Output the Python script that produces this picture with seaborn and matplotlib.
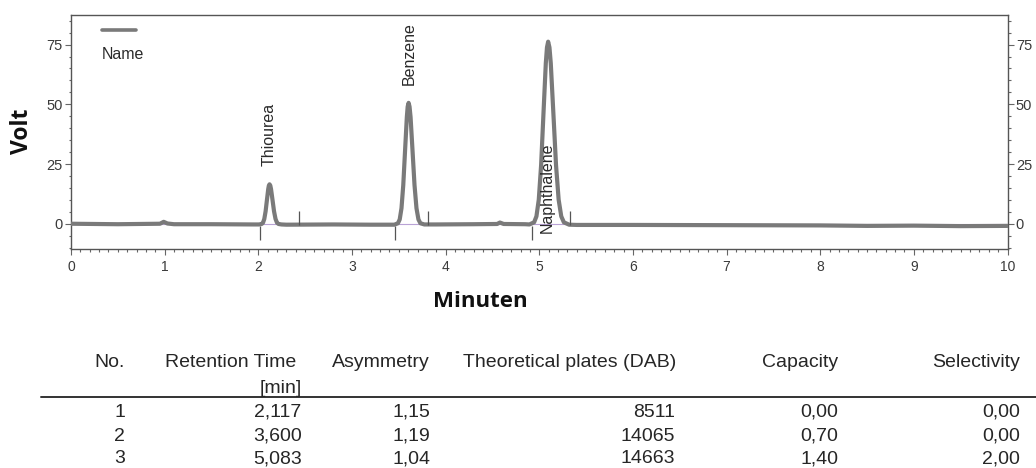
import matplotlib
matplotlib.use("Agg")
import matplotlib.pyplot as plt
import pandas as pd
import seaborn as sns
from matplotlib.ticker import MultipleLocator, FixedLocator
from matplotlib.offsetbox import DrawingArea, TextArea, VPacker, AnchoredOffsetbox
from matplotlib.lines import Line2D

# ---- chromatogram trace (minutes, volt) ----
time_min = [0.00, 0.50, 0.95, 0.99, 1.03, 1.10, 1.50, 1.95,
            2.008, 2.036, 2.050, 2.064, 2.078, 2.092, 2.106, 2.113, 2.120, 2.128, 2.136, 2.152, 2.168, 2.184, 2.200, 2.216, 2.248,
            2.30, 2.80, 3.20,
            3.453, 3.491, 3.510, 3.529, 3.548, 3.567, 3.586, 3.595, 3.605, 3.615, 3.626, 3.647, 3.668, 3.689, 3.710, 3.731, 3.773,
            3.90, 4.30, 4.55, 4.58, 4.62, 4.85,
            4.895, 4.945, 4.970, 4.995, 5.020, 5.045, 5.070, 5.0825, 5.095, 5.109, 5.123, 5.151, 5.179, 5.207, 5.235, 5.263, 5.319,
            5.40, 6.00, 7.00, 8.00, 8.50, 9.00, 9.50, 10.00]
signal_volt = [0.0, -0.2, 0.0, 0.8, 0.1, -0.2, -0.2, -0.3,
               -0.3, -0.1, 0.4, 2.0, 5.2, 9.9, 14.5, 16.0, 16.5, 16.0, 14.5, 9.9, 5.2, 2.0, 0.4, -0.1, -0.3,
               -0.4, -0.3, -0.4,
               -0.4, 0.2, 1.8, 6.5, 16.2, 30.5, 44.6, 49.0, 50.6, 49.0, 44.6, 30.5, 16.2, 6.5, 1.8, 0.2, -0.3,
               -0.3, -0.2, -0.1, 0.5, -0.1, -0.2,
               -0.3, 0.6, 3.1, 10.1, 24.6, 46.1, 67.2, 73.8, 76.2, 73.8, 67.2, 46.1, 24.6, 10.1, 3.1, 0.6, -0.4,
               -0.5, -0.5, -0.6, -0.7, -0.9, -0.8, -1.0, -0.9]

# peak labels and integration marks
peak_names = ["Thiourea", "Benzene", "Naphthalene"]
label_time = [2.12, 3.61, 5.09]
label_volt = [24.0, 58.0, -3.7]
peak_start = [2.015, 3.465, 4.918]
peak_end = [2.430, 3.812, 5.325]
start_mark_volt = [-0.8, -7.0]
end_mark_volt = [-0.5, 5.4]

# ---- result table ----
col_no = ["1", "2", "3"]
col_retention = ["2,117", "3,600", "5,083"]
col_asymmetry = ["1,15", "1,19", "1,04"]
col_plates = ["8511", "14065", "14663"]
col_capacity = ["0,00", "0,70", "1,40"]
col_selectivity = ["0,00", "0,00", "2,00"]
table_headers = ["No.", "Retention Time", "Asymmetry", "Theoretical plates (DAB)", "Capacity", "Selectivity"]

sns.set_theme(style="white")
plt.rcParams["font.family"] = ["Liberation Sans", "DejaVu Sans"]

W, H = 1036, 468
fig = plt.figure(figsize=(W / 100, H / 100), dpi=100)
ax_l, ax_r, ax_t, ax_b = 71, 1007.5, 14.7, 249.3
ax = fig.add_axes([ax_l / W, 1 - ax_b / H, (ax_r - ax_l) / W, (ax_b - ax_t) / H])

trace_color = "#7a7a7a"
df = pd.DataFrame({"Minuten": time_min, "Volt": signal_volt})
ax.axhline(0, color="#b9a3d6", lw=0.8, zorder=1)
sns.lineplot(data=df, x="Minuten", y="Volt", ax=ax, estimator=None, sort=False,
             color=trace_color, lw=3.0, zorder=3, solid_joinstyle="round", solid_capstyle="round")
ax.vlines(peak_start, start_mark_volt[0], start_mark_volt[1], color="#555555", lw=0.9, zorder=4)
ax.vlines(peak_end, end_mark_volt[0], end_mark_volt[1], color="#555555", lw=0.9, zorder=4)

for name, tx, ty in zip(peak_names, label_time, label_volt):
    ax.text(tx, ty, name, rotation=90, ha="center", va="bottom", fontsize=11.5, color="#2a2a2a", zorder=5)

ax.set_xlim(0, 10)
ax.set_ylim(-10.7, 87.5)
ax.xaxis.set_major_locator(MultipleLocator(1))
ax.xaxis.set_minor_locator(MultipleLocator(0.1))
ax.yaxis.set_major_locator(FixedLocator([0, 25, 50, 75]))
ax.yaxis.set_minor_locator(MultipleLocator(5))
ax.tick_params(axis="both", which="both", direction="out", color="#666666", width=0.8)
ax.tick_params(axis="both", which="major", length=4)
ax.tick_params(axis="both", which="minor", length=1.8)
ax.tick_params(axis="y", which="both", left=True, right=True, labelleft=True, labelright=True,
               labelsize=10.5, labelcolor="#3a3a3a", pad=2)
ax.tick_params(axis="x", which="both", bottom=True, top=False, labelsize=10, labelcolor="#3a3a3a", pad=4)
for s in ax.spines.values():
    s.set_visible(True)
    s.set_color("#555555")
    s.set_linewidth(1.0)

ax.set_xlabel("Minuten", fontsize=16, fontweight="bold", family=["Open Sans", "DejaVu Sans"], color="#111111")
ax.set_ylabel("Volt", fontsize=16.5, fontweight="bold", family=["Open Sans", "DejaVu Sans"], color="#111111")
ax.xaxis.label.set_va("center")
ax.yaxis.label.set_va("center")
ax.xaxis.set_label_coords(0.437, (ax_b - 301.7) / (ax_b - ax_t))
ax.yaxis.set_label_coords((22 - ax_l) / (ax_r - ax_l), 0.502)

# legend: handle above its label
da = DrawingArea(25, 3, 0, 0)
da.add_artist(Line2D([0, 25], [1.5, 1.5], color=trace_color, lw=2.6))
ta = TextArea("Name", textprops=dict(fontsize=11.5, color="#2a2a2a"))
box = VPacker(children=[da, ta], align="left", pad=0, sep=11)
leg = AnchoredOffsetbox(loc="upper left", child=box, frameon=False, pad=0, borderpad=0,
                        bbox_to_anchor=((101.5 - ax_l) / (ax_r - ax_l), 1 - (28.0 - ax_t) / (ax_b - ax_t)),
                        bbox_transform=ax.transAxes)
ax.add_artist(leg)

# ---- table ----
tcol = "#262626"
fs = 14
header_right = [125, 296, 430, 676.7, 838.3, 1020]
value_right = [125, 301.7, 430, 675, 838.3, 1020]
for hx, htxt in zip(header_right, table_headers):
    fig.text(hx / W, 1 - 367.3 / H, htxt, ha="right", va="baseline", fontsize=fs, color=tcol)
fig.text(301.7 / W, 1 - 393.0 / H, "[min]", ha="right", va="baseline", fontsize=fs, color=tcol)
fig.add_artist(Line2D([40.7 / W, 1.0], [1 - 396.9 / H] * 2, transform=fig.transFigure, color="#333333", lw=1.4))
row_base = [416.7, 440.7, 463.3]
columns = [col_no, col_retention, col_asymmetry, col_plates, col_capacity, col_selectivity]
for cx, col in zip(value_right, columns):
    for ry, val in zip(row_base, col):
        fig.text(cx / W, 1 - ry / H, val, ha="right", va="baseline", fontsize=fs, color=tcol)

fig.savefig("out.png", dpi=100)
